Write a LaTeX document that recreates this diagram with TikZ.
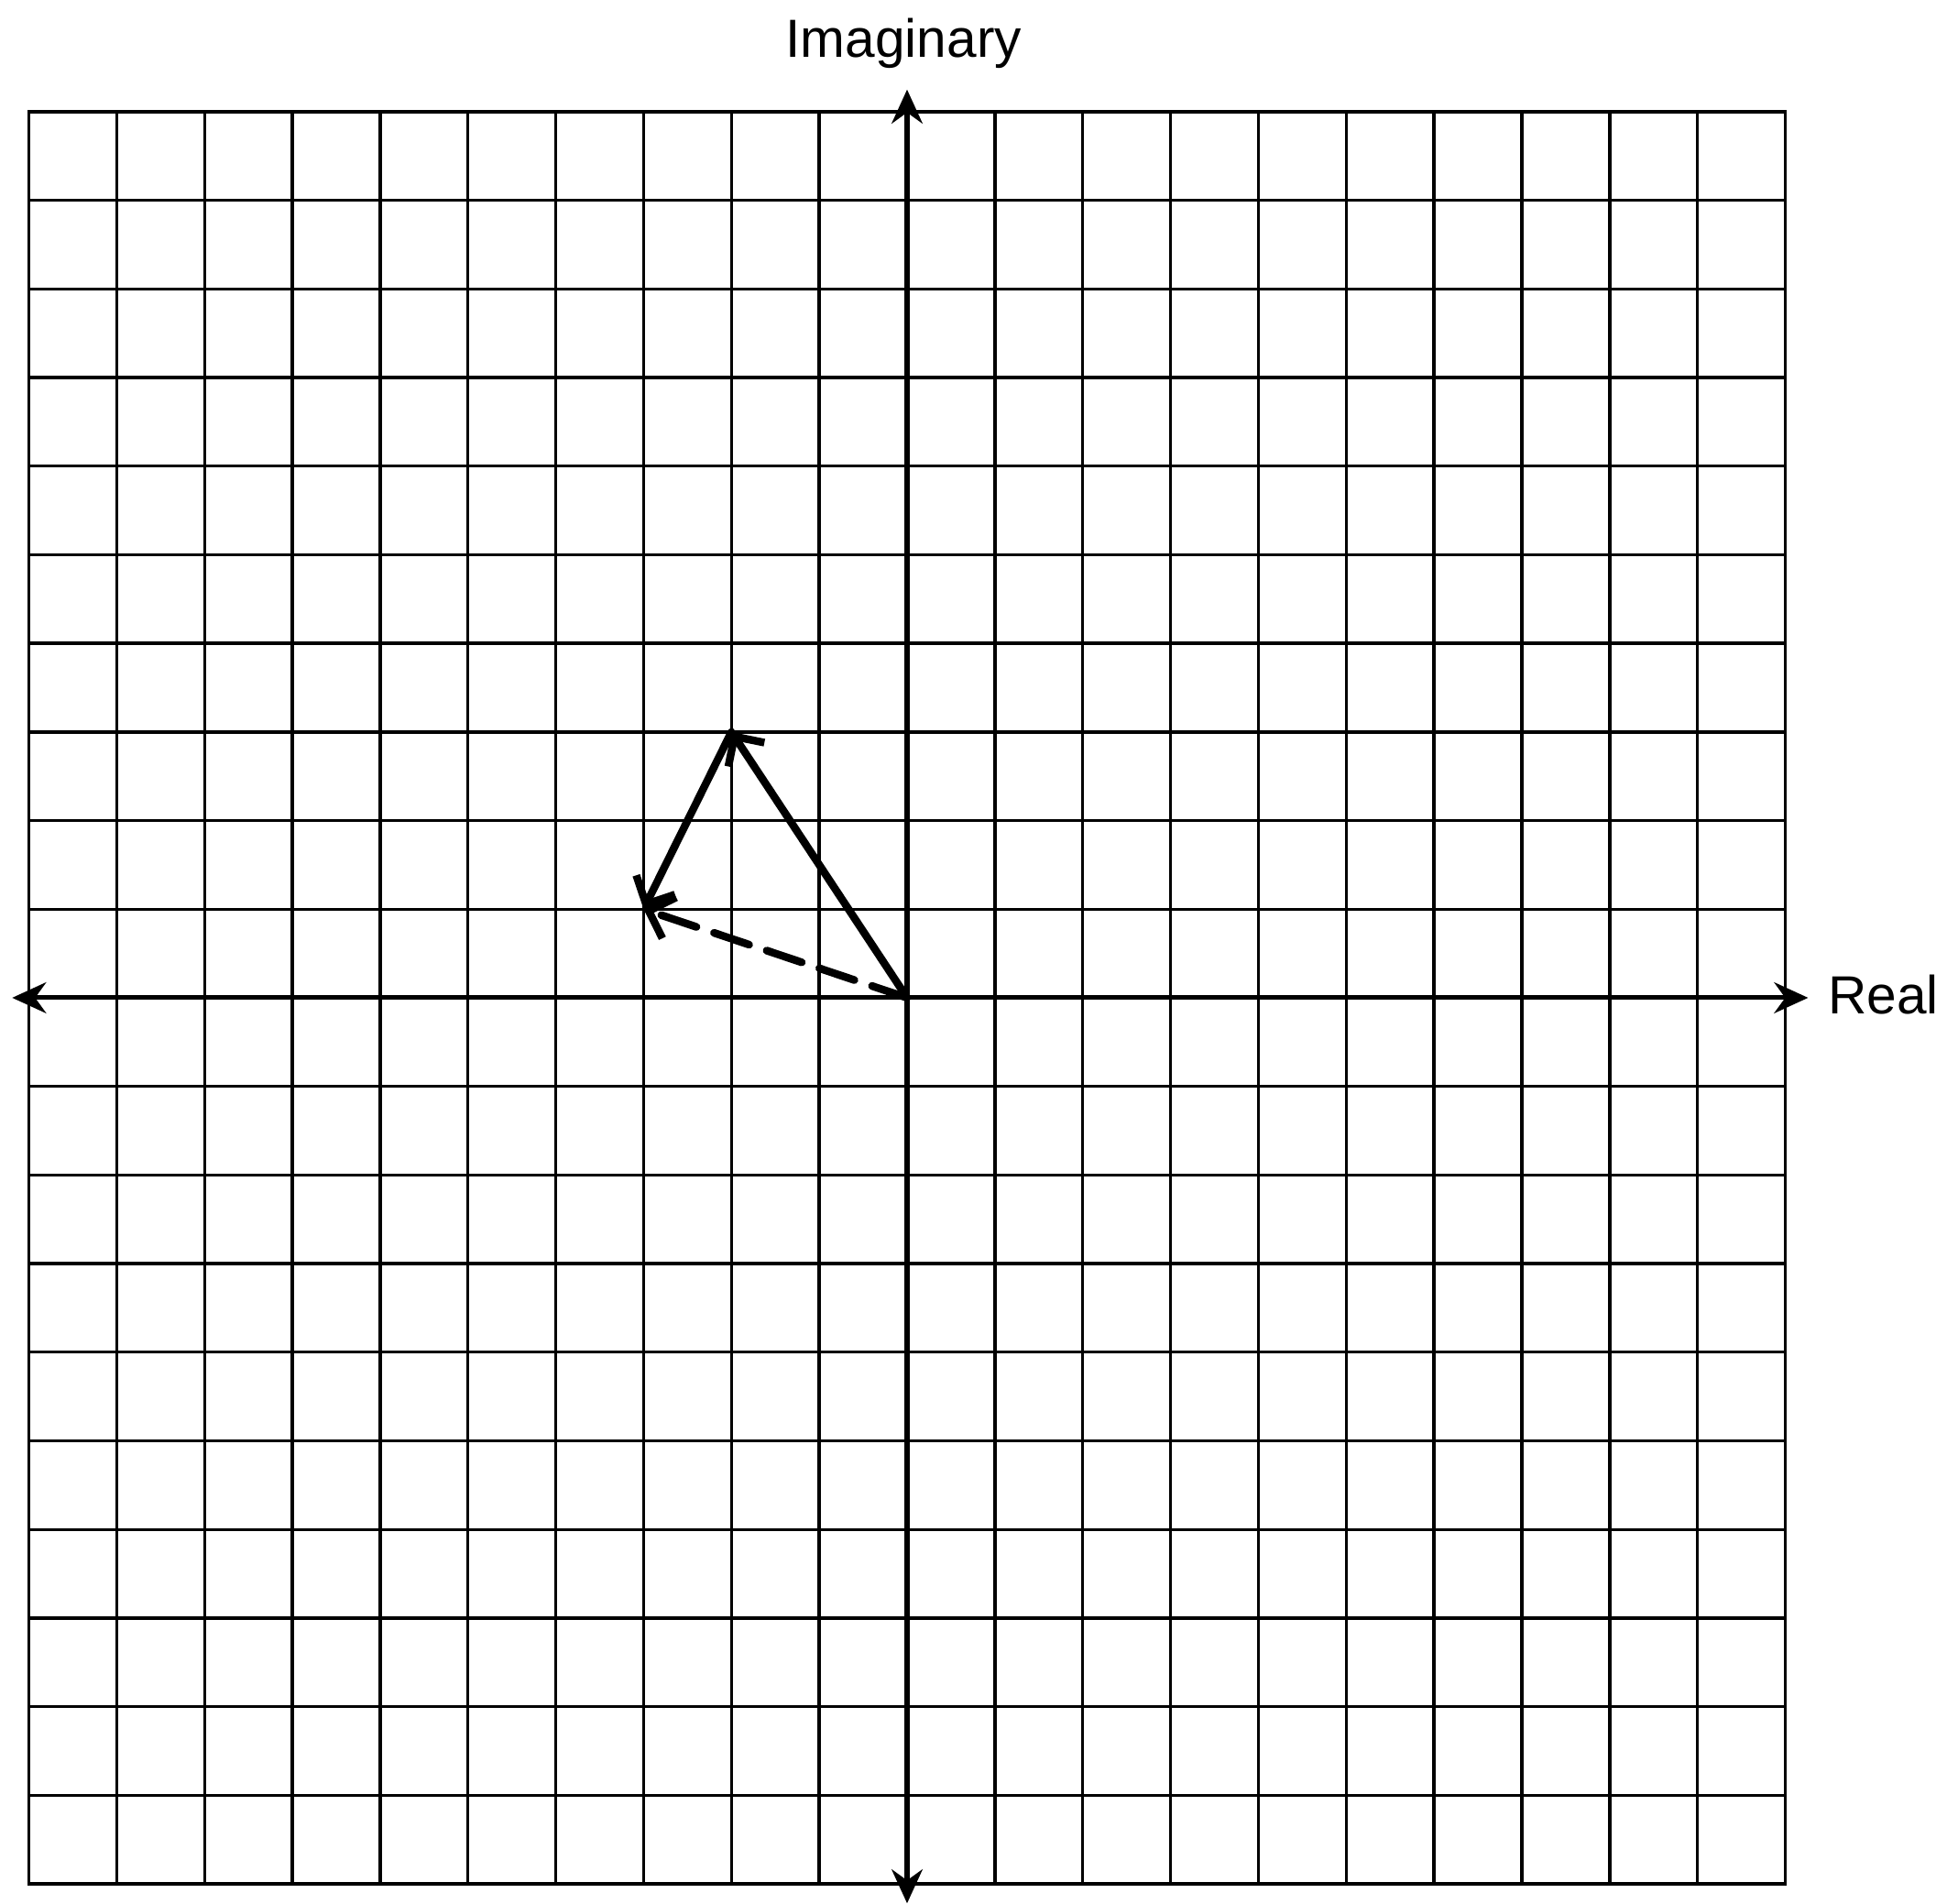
\documentclass[tikz,border=0pt]{standalone}
\usepackage{fontspec}
\setmainfont{Liberation Sans}
\usetikzlibrary{arrows.meta}
\begin{document}
\begin{tikzpicture}[x=1cm, y=1.0089cm,
    gridline/.style={line width=1pt, line cap=rect},
    axis/.style={line width=1.5pt, {Stealth[length=11pt,width=10pt]}-{Stealth[length=11pt,width=10pt]}},
    vec/.style={line width=2.5pt, line cap=round, -{Straight Barb[length=7pt,width=14pt,line width=2.5pt]}},
    axislabel/.style={font=\fontsize{17.4}{20}\selectfont, inner sep=0pt}]
    \useasboundingbox (-10.329,-10.227) rectangle (11.716,11.261);
    % Grid
    \draw[gridline, xstep=1cm, ystep=1.0089cm] (-10,-10) grid (10,10);
    % Axes
    \coordinate (xl) at (-10.19,0);
    \coordinate (xr) at (10.26,0);
    \coordinate (yb) at (0,-10.22);
    \coordinate (yt) at (0,10.25);
    \draw[axis] (xl) -- (xr);
    \draw[axis] (yb) -- (yt);
    \node[axislabel, anchor=base] (im) at (-0.04,10.61) {Imaginary};
    \node[axislabel, anchor=base west] (re) at (10.48,-0.186) {Real};
    % Vectors
    \coordinate (O) at (0,0);
    \coordinate (A) at (-2,3);
    \coordinate (B) at (-3,1);
    \draw[vec] (O) -- (A);
    \draw[vec] (A) -- (B);
    \draw[vec, dash pattern=on 12pt off 6pt] (O) -- (B);
\end{tikzpicture}
\end{document}
